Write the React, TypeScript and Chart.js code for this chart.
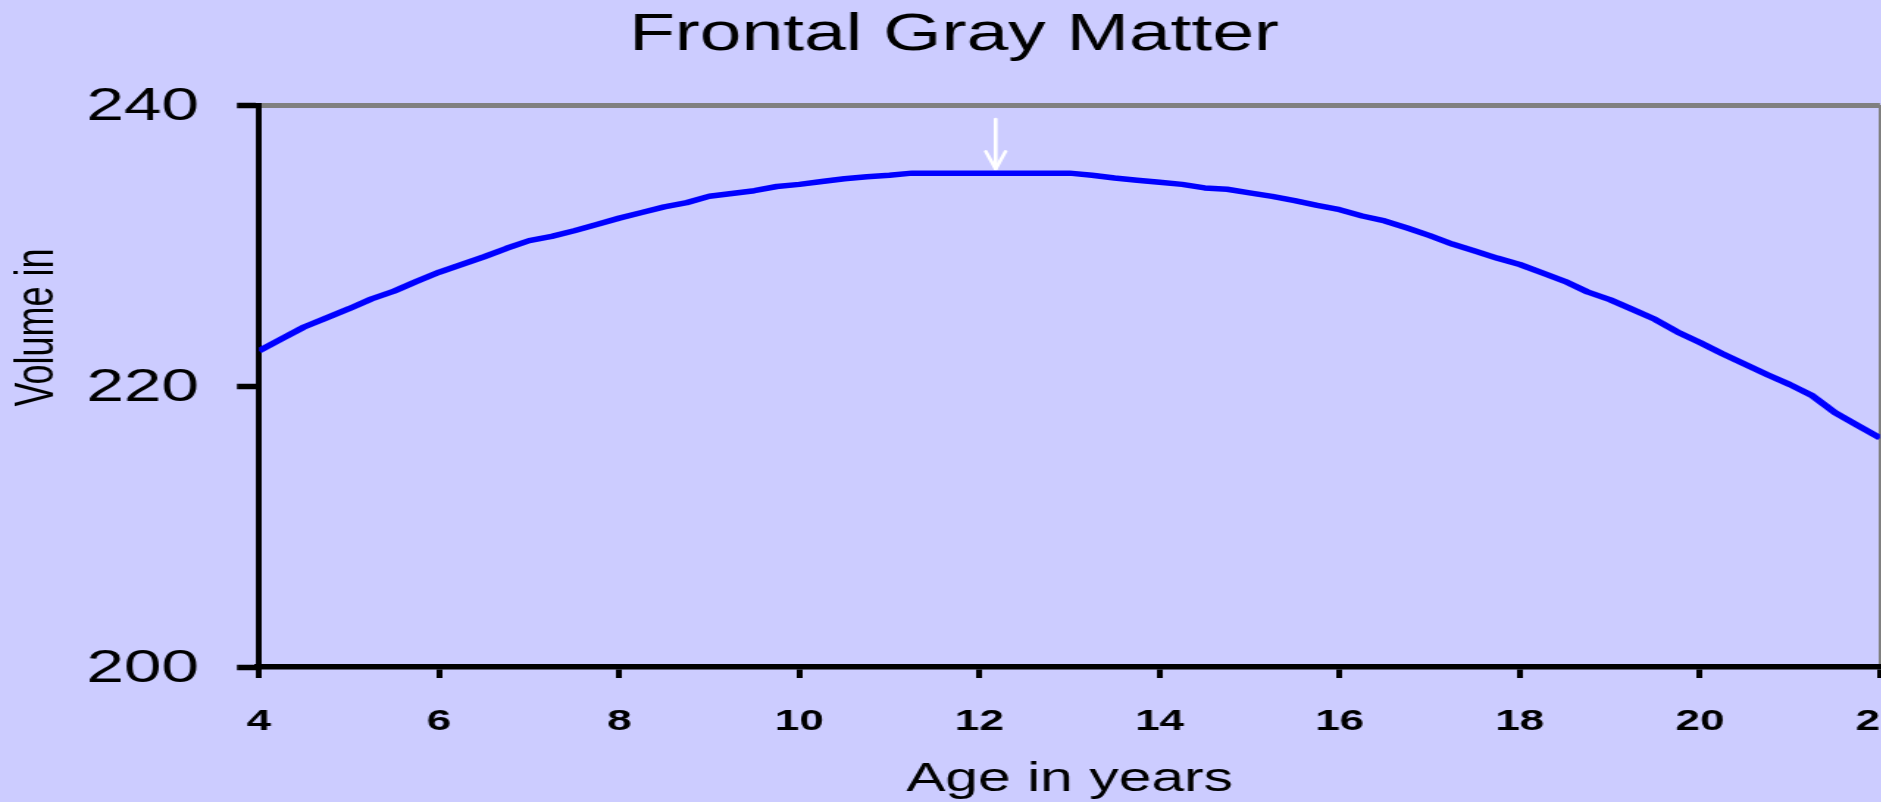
import React, { useEffect, useRef } from "react";
import { Chart, registerables } from "chart.js";

Chart.register(...registerables);

// ---- data ----
const TITLE = "Frontal Gray Matter";
const X_TITLE = "Age in years";
const Y_TITLE = "Volume in";

const AGES = [
  4.0, 4.25, 4.5, 4.75, 5.0, 5.25, 5.5, 5.75, 6.0, 6.25, 6.5, 6.75, 7.0, 7.25, 7.5, 7.75,
  8.0, 8.25, 8.5, 8.75, 9.0, 9.25, 9.5, 9.75, 10.0, 10.25, 10.5, 10.75, 11.0, 11.25, 11.5,
  11.75, 12.0, 12.25, 12.5, 12.75, 13.0, 13.25, 13.5, 13.75, 14.0, 14.25, 14.5, 14.75, 15.0,
  15.25, 15.5, 15.75, 16.0, 16.25, 16.5, 16.75, 17.0, 17.25, 17.5, 17.75, 18.0, 18.25, 18.5,
  18.75, 19.0, 19.25, 19.5, 19.75, 20.0, 20.25, 20.5, 20.75, 21.0, 21.25, 21.5, 21.75, 22.0,
];
const VOLUMES = [
  222.5, 223.35, 224.2, 224.85, 225.5, 226.2, 226.75, 227.45, 228.1, 228.65, 229.2, 229.8,
  230.35, 230.65, 231.05, 231.5, 231.95, 232.35, 232.75, 233.05, 233.5, 233.7, 233.9, 234.2,
  234.35, 234.55, 234.75, 234.9, 235.0, 235.15, 235.15, 235.15, 235.15, 235.15, 235.15,
  235.15, 235.15, 235.0, 234.8, 234.65, 234.5, 234.35, 234.1, 234.0, 233.75, 233.5, 233.2,
  232.85, 232.55, 232.1, 231.75, 231.25, 230.7, 230.1, 229.6, 229.1, 228.65, 228.05, 227.45,
  226.7, 226.15, 225.45, 224.75, 223.85, 223.1, 222.3, 221.55, 220.8, 220.1, 219.3, 218.1,
  217.2, 216.3,
];

// white arrow marking the peak
const ARROW_SHAFT_X = [12.18, 12.18];
const ARROW_SHAFT_Y = [239.0, 235.45];
const ARROW_HEAD_X = [12.07, 12.18, 12.29];
const ARROW_HEAD_Y = [236.7, 235.45, 236.7];

const X_MIN = 4;
const X_MAX = 22;
const X_STEP = 2;
const Y_MIN = 200;
const Y_MAX = 240;
const Y_STEP = 20;

// ---- layout (the reference is horizontally stretched) ----
const S = 1.47; // horizontal stretch
const PAGE_W = 1881;
const PAGE_H = 802;
const CANVAS_W = 1330;
const AREA_LEFT = 259 / S;
const AREA_RIGHT = 1880 / S;
const AREA_TOP = 105;
const AREA_BOTTOM = 667;
const PAD_RIGHT = CANVAS_W - AREA_RIGHT;
const TITLE_CENTER = 954 / S;
const PAD_LEFT = 2 * TITLE_CENTER - AREA_RIGHT;
const TITLE_SIZE = 51;
const TITLE_PAD_TOP = 5;

const FONT = "'Liberation Sans', Arial, Helvetica, sans-serif";
const BG = "#CCCCFF";

const zip = (xs: number[], ys: number[]) => xs.map((x, i) => ({ x, y: ys[i] }));

const yTitlePlugin = {
  id: "yTitle",
  afterDraw(chart: any) {
    const ctx = chart.ctx;
    ctx.save();
    ctx.translate(53 / S, 327.5);
    ctx.rotate(-Math.PI / 2);
    ctx.font = `36px ${FONT}`;
    ctx.fillStyle = "#000";
    ctx.textAlign = "center";
    ctx.textBaseline = "alphabetic";
    ctx.fillText(Y_TITLE, 0, 0);
    ctx.restore();
  },
};

export default function App() {
  const ref = useRef<HTMLCanvasElement | null>(null);

  useEffect(() => {
    document.body.style.margin = "0";
    document.body.style.background = BG;
    const canvas = ref.current!;
    const chart = new Chart(canvas, {
      type: "line",
      data: {
        datasets: [
          {
            data: zip(AGES, VOLUMES),
            borderColor: "#0000FF",
            borderWidth: 5.5,
            pointRadius: 0,
            tension: 0,
            borderJoinStyle: "round",
          },
          {
            data: zip(ARROW_SHAFT_X, ARROW_SHAFT_Y),
            borderColor: "#FFFFFF",
            borderWidth: 2.6,
            pointRadius: 0,
            borderCapStyle: "round",
          },
          {
            data: zip(ARROW_HEAD_X, ARROW_HEAD_Y),
            borderColor: "#FFFFFF",
            borderWidth: 2.6,
            pointRadius: 0,
            borderCapStyle: "round",
            borderJoinStyle: "round",
          },
        ],
      },
      options: {
        responsive: false,
        animation: false,
        events: [],
        layout: { padding: { left: PAD_LEFT, right: PAD_RIGHT, top: 0, bottom: 0 } },
        plugins: {
          legend: { display: false },
          tooltip: { enabled: false },
          title: {
            display: true,
            text: TITLE,
            color: "#000",
            font: { family: FONT, size: TITLE_SIZE, weight: "normal" },
            padding: { top: TITLE_PAD_TOP, bottom: AREA_TOP - TITLE_PAD_TOP - TITLE_SIZE * 1.2 },
          },
        },
        scales: {
          x: {
            type: "linear",
            min: X_MIN,
            max: X_MAX,
            afterFit: (s: any) => {
              s.height = PAGE_H - AREA_BOTTOM;
            },
            ticks: {
              stepSize: X_STEP,
              autoSkip: false,
              maxRotation: 0,
              color: "#000",
              padding: 25.5,
              font: { family: FONT, size: 30, weight: "bold" },
            },
            grid: {
              drawOnChartArea: true,
              color: (c: any) => (c.tick && c.tick.value === X_MAX ? "#808080" : "rgba(0,0,0,0)"),
              lineWidth: 2,
              tickColor: "#000",
              tickWidth: 4,
              tickLength: 11,
            },
            border: { display: true, color: "#000", width: 5.5 },
            title: {
              display: true,
              text: X_TITLE,
              color: "#000",
              font: { family: FONT, size: 40, weight: "normal" },
              padding: { top: 0, bottom: -2.3 },
            },
          },
          y: {
            type: "linear",
            min: Y_MIN,
            max: Y_MAX,
            afterFit: (s: any) => {
              s.width = AREA_LEFT - PAD_LEFT;
            },
            ticks: {
              stepSize: Y_STEP,
              color: "#000",
              padding: 25.8,
              labelOffset: 2.5,
              font: { family: FONT, size: 46, weight: "normal" },
            },
            grid: {
              drawOnChartArea: true,
              color: (c: any) => (c.tick && c.tick.value === Y_MAX ? "#808080" : "rgba(0,0,0,0)"),
              lineWidth: 5,
              tickColor: "#000",
              tickWidth: 5.5,
              tickLength: 22 / S,
            },
            border: { display: true, color: "#000", width: 4 },
          },
        },
      },
      plugins: [yTitlePlugin],
    } as any);
    return () => chart.destroy();
  }, []);

  return (
    <div
      style={{
        position: "fixed",
        left: 0,
        top: 0,
        width: PAGE_W,
        height: PAGE_H,
        overflow: "hidden",
        background: BG,
      }}
    >
      <div
        style={{
          width: CANVAS_W,
          height: PAGE_H,
          transform: `scaleX(${S})`,
          transformOrigin: "0 0",
        }}
      >
        <canvas
          ref={ref}
          width={CANVAS_W}
          height={PAGE_H}
          style={{ display: "block", width: CANVAS_W, height: PAGE_H }}
        />
      </div>
    </div>
  );
}
